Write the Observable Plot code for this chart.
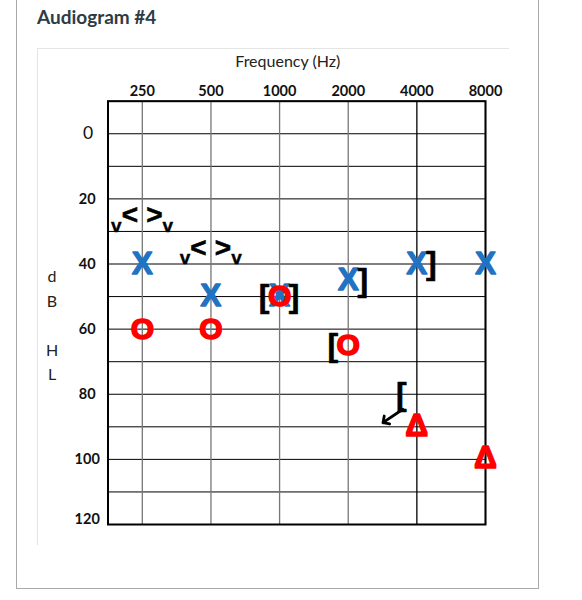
<!DOCTYPE html>
<html>
<head>
<meta charset="utf-8">
<script src="https://cdn.jsdelivr.net/npm/d3@7"></script>
<script src="https://cdn.jsdelivr.net/npm/@observablehq/plot@0.6"></script>
<style>
  html, body { margin: 0; padding: 0; background: #fff; }
  #page { position: relative; width: 582px; height: 600px; overflow: hidden; }
  #outer { position: absolute; left: 16px; top: -10px; width: 523px; height: 599px; box-sizing: border-box;
           border: 1px solid #a9a9a9; }
  #title { position: absolute; left: 37px; top: 7px; font-family: Lato, sans-serif; font-weight: 700;
           font-size: 19px; line-height: 19px; color: #2d3b45; white-space: nowrap; }
  #chart { position: absolute; left: 37px; top: 48px; width: 471px; height: 496px;
           border-top: 1px solid #e4e4e4; border-left: 1px solid #e4e4e4; }
  #chart svg { display: block; }
</style>
</head>
<body>
<div id="page">
  <div id="outer"></div>
  <div id="title">Audiogram #4</div>
  <div id="chart"></div>
</div>
<script>
// ---- data ----
const freqs = [250, 500, 1000, 2000, 4000, 8000];
const freqLabels = ["250", "500", "1000", "2000", "4000", "8000"];
const gridDb = [-10, 0, 10, 20, 30, 40, 50, 60, 70, 80, 90, 100, 110, 120];
const dbTicks = [20, 40, 60, 80, 100];
const dbTickZero = [0];
const dbTickLast = [120];
const yAxisLetters = "d\nB\n\nH\nL";
const xAxisTitle = "Frequency (Hz)";

// left ear air conduction (X)
const leftAirFreq = [250, 500, 1000, 2000, 4000, 8000];
const leftAirDb = [40, 50, 50, 45, 40, 40];
// right ear air conduction (O)
const rightAirFreq = [250, 500, 1000, 2000];
const rightAirDb = [60, 60, 50, 65];
// right ear masked air conduction (Δ)
const rightMaskedAirFreq = [4000, 8000];
const rightMaskedAirDb = [90, 100];
// unmasked bone conduction (< right, > left)
const boneFreq = [250, 500];
const rightBoneDb = [25, 35];
const leftBoneDb = [25, 35];
// masked bone conduction ([ right, ] left)
const rightMaskedBoneFreq = [1000, 2000, 4000];
const rightMaskedBoneDb = [50, 65, 80];
const leftMaskedBoneFreq = [1000, 2000, 4000];
const leftMaskedBoneDb = [50, 45, 40];
// no response
const noResponseFreq = [4000];
const noResponseDb = [80];

const pts = (fs, ds) => fs.map((f, i) => ({f, db: ds[i]}));

const BLUE = "#1f73c2";
const RED = "#ff0000";
const SYM = "Liberation Sans, Arial, sans-serif";

const chart = Plot.plot({
  width: 471,
  height: 496,
  marginLeft: 69.5,
  marginRight: 24,
  marginTop: 51.7,
  marginBottom: 21,
  x: {type: "log", domain: [250 / Math.SQRT2, 8000], axis: null},
  y: {domain: [-10, 120], reverse: true, axis: null},
  style: {fontFamily: "Lato, sans-serif", background: "transparent", overflow: "visible", color: "#000"},
  marks: [
    Plot.ruleY(gridDb, {y: d => d, stroke: "#000", strokeWidth: 1}),
    Plot.ruleX(freqs, {x: d => d, stroke: d => d === 4000 ? "#000" : "#777", strokeWidth: 1.3}),
    Plot.frame({stroke: "#000", strokeWidth: 2}),
    // axis texts
    Plot.text(freqs, {x: d => d, text: (d, i) => freqLabels[i], frameAnchor: "top", lineAnchor: "middle", dy: -10,
      fontSize: 14.5, fontWeight: 700, fill: "#111"}),
    Plot.text([xAxisTitle], {text: d => d, frameAnchor: "top", lineAnchor: "middle", dx: -9, dy: -39.5,
      fontSize: 16, fill: "#222"}),
    Plot.text(dbTicks, {y: d => d, text: d => String(d), frameAnchor: "left", dx: -20.8, textAnchor: "middle",
      fontSize: 14.5, fontWeight: 700, fill: "#111"}),
    Plot.text(dbTickLast, {y: d => d, text: d => String(d), frameAnchor: "left", dx: -20.8, dy: -5, textAnchor: "middle",
      fontSize: 14.5, fontWeight: 700, fill: "#111"}),
    Plot.text(dbTickZero, {y: d => d, text: d => String(d), frameAnchor: "left", dx: -20, textAnchor: "middle",
      fontSize: 17.5, fill: "#111"}),
    Plot.text([yAxisLetters], {text: d => d, frameAnchor: "left", dx: -56, dy: 10.6, textAnchor: "middle",
      lineHeight: 1.53, fontSize: 16, fill: "#222"}),
    // symbols
    Plot.text(pts(boneFreq, rightBoneDb), {x: "f", y: "db", text: () => "<", dx: -12.5, fontFamily: SYM,
      fontWeight: 700, fontSize: 28, fill: "#000", stroke: "#000", strokeWidth: 0.6}),
    Plot.text(pts(boneFreq, leftBoneDb), {x: "f", y: "db", text: () => ">", dx: 12, fontFamily: SYM,
      fontWeight: 700, fontSize: 28, fill: "#000", stroke: "#000", strokeWidth: 0.6}),
    Plot.text(pts(boneFreq, rightBoneDb), {x: "f", y: "db", text: () => "v", dx: -26, dy: 10.5, fontFamily: SYM,
      fontWeight: 700, fontSize: 19, fill: "#000", stroke: "#000", strokeWidth: 0.4}),
    Plot.text(pts(boneFreq, leftBoneDb), {x: "f", y: "db", text: () => "v", dx: 25.5, dy: 10.5, fontFamily: SYM,
      fontWeight: 700, fontSize: 19, fill: "#000", stroke: "#000", strokeWidth: 0.4}),
    Plot.text(pts(leftAirFreq, leftAirDb), {x: "f", y: "db", text: () => "X", fontFamily: SYM,
      fontWeight: 700, fontSize: 31, fill: BLUE, stroke: BLUE, strokeWidth: 1.4}),
    Plot.text(pts(rightAirFreq, rightAirDb), {x: "f", y: "db", text: () => "O", fontFamily: SYM,
      fontWeight: 700, fontSize: 30, fill: RED, stroke: RED, strokeWidth: 1.6}),
    Plot.text(pts(rightMaskedAirFreq, rightMaskedAirDb), {x: "f", y: "db", text: () => "Δ", dy: -1.5, fontFamily: SYM,
      fontWeight: 700, fontSize: 32, fill: RED, stroke: RED, strokeWidth: 1.4}),
    Plot.text(pts(rightMaskedBoneFreq, rightMaskedBoneDb), {x: "f", y: "db", text: () => "[", dx: -15.5, fontFamily: SYM,
      fontWeight: 700, fontSize: 32, fill: "#000", stroke: "#000", strokeWidth: 0.6}),
    Plot.text(pts(leftMaskedBoneFreq, leftMaskedBoneDb), {x: "f", y: "db", text: () => "]", dx: 14.5, fontFamily: SYM,
      fontWeight: 700, fontSize: 32, fill: "#000", stroke: "#000", strokeWidth: 0.6}),
    Plot.vector(pts(noResponseFreq, noResponseDb), {x: "f", y: "db", length: 24, rotate: 236, anchor: "start",
      dx: -14, dy: 15, stroke: "#000", strokeWidth: 2.8, shape: "arrow"})
  ]
});
document.getElementById("chart").appendChild(chart);
</script>
</body>
</html>
